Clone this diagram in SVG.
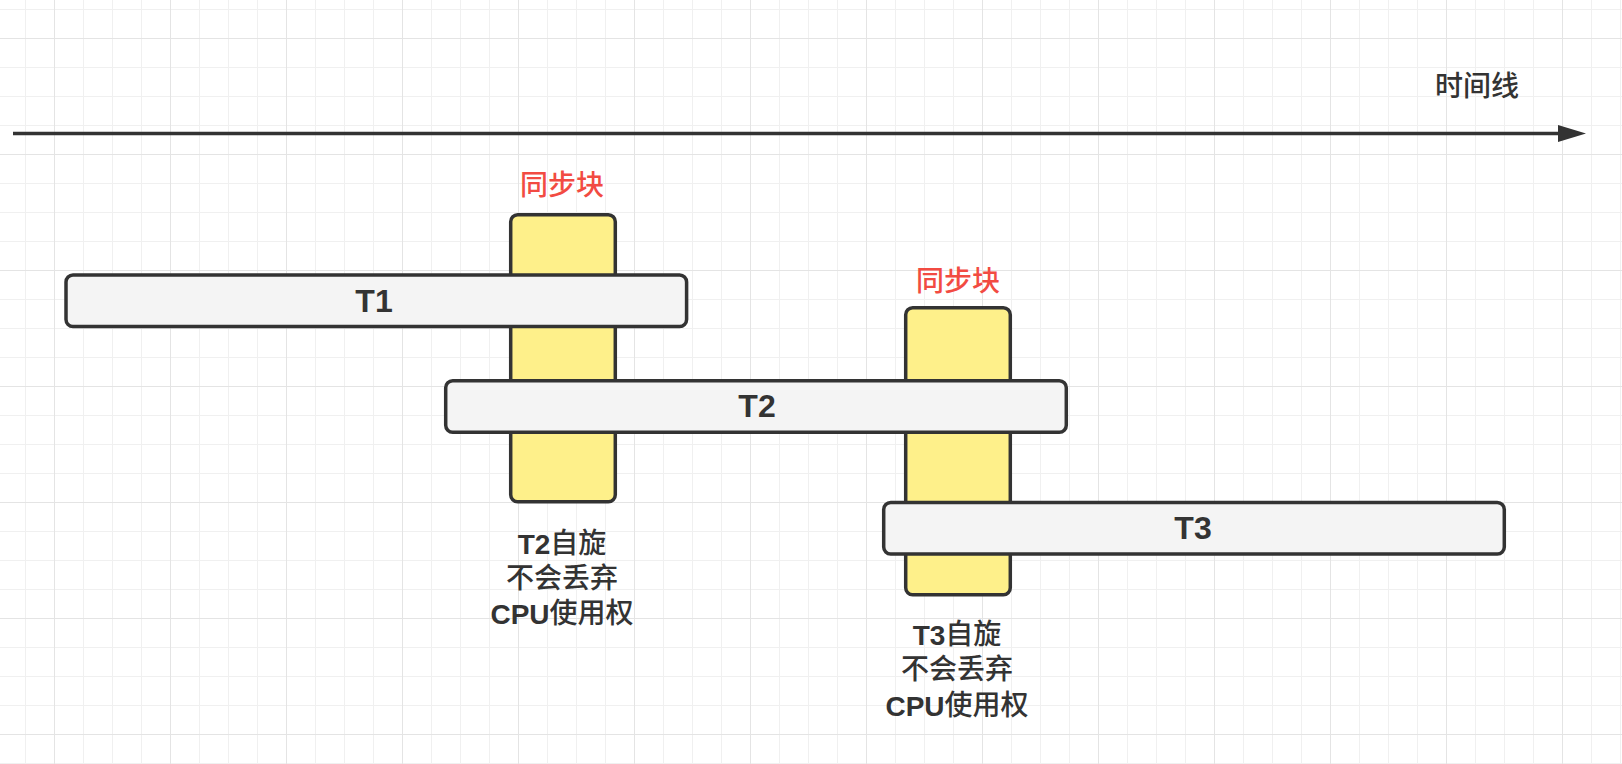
<svg xmlns="http://www.w3.org/2000/svg" width="1622" height="764" viewBox="0 0 1622 764">
  <defs>
    <pattern id="grid" x="54" y="38" width="116" height="116" patternUnits="userSpaceOnUse">
      <rect x="29" y="0" width="1" height="116" fill="#f0f0f0"/>
      <rect x="58" y="0" width="1" height="116" fill="#f0f0f0"/>
      <rect x="87" y="0" width="1" height="116" fill="#f0f0f0"/>
      <rect x="0" y="29" width="116" height="1" fill="#f0f0f0"/>
      <rect x="0" y="58" width="116" height="1" fill="#f0f0f0"/>
      <rect x="0" y="87" width="116" height="1" fill="#f0f0f0"/>
      <rect x="0" y="0" width="1" height="116" fill="#e4e4e4"/>
      <rect x="0" y="0" width="116" height="1" fill="#e4e4e4"/>
    </pattern>
  </defs>
  <style>
    .bar { fill: #f4f4f4; stroke: #333333; stroke-width: 3.5; }
    .sync { fill: #fef08a; stroke: #333333; stroke-width: 3.5; }
    .tlabel { font-family: "Liberation Sans", "Noto Sans CJK SC", sans-serif; font-size: 32px; font-weight: bold; fill: #333333; text-anchor: middle; dominant-baseline: central; }
    .label { font-family: "Liberation Sans", "Noto Sans CJK SC", sans-serif; font-size: 28px; font-weight: 500; fill: #333333; text-anchor: middle; dominant-baseline: central; }
    .lat { font-weight: bold; }
    .red { font-family: "Noto Sans CJK SC", sans-serif; font-size: 28px; font-weight: 500; fill: #f24b42; text-anchor: middle; dominant-baseline: central; }
  </style>
  <rect x="0" y="0" width="1622" height="764" fill="#ffffff"/>
  <rect x="0" y="0" width="1622" height="764" fill="url(#grid)"/>

  <g id="connectors">
    <line x1="13" y1="133.5" x2="1560" y2="133.5" stroke="#333333" stroke-width="3.5"/>
    <polygon points="1558,125 1586,133.5 1558,142" fill="#333333"/>
  </g>

  <g id="timeline-label">
    <text class="label" x="1477" y="86">时间线</text>
  </g>

  <g id="sync1">
    <rect class="sync" x="510.7" y="214.7" width="104.6" height="287" rx="7"/>
    <text class="red" x="562" y="183">同步块</text>
  </g>
  <g id="sync2">
    <rect class="sync" x="905.7" y="307.7" width="104.6" height="287" rx="7"/>
    <text class="red" x="958" y="278.5">同步块</text>
  </g>

  <g id="T1">
    <rect class="bar" x="66" y="275" width="620.6" height="51.6" rx="7"/>
    <text class="tlabel" x="374" y="301">T1</text>
  </g>
  <g id="T2">
    <rect class="bar" x="445.7" y="380.7" width="620.6" height="51.6" rx="7"/>
    <text class="tlabel" x="757" y="406">T2</text>
  </g>
  <g id="T3">
    <rect class="bar" x="883.7" y="502.5" width="620.6" height="51.6" rx="7"/>
    <text class="tlabel" x="1193" y="528">T3</text>
  </g>

  <g id="note-T2">
    <text class="label" x="562" y="543.5"><tspan class="lat">T2</tspan>自旋</text>
    <text class="label" x="562" y="578.5">不会丢弃</text>
    <text class="label" x="562" y="613.5"><tspan class="lat">CPU</tspan>使用权</text>
  </g>
  <g id="note-T3">
    <text class="label" x="957" y="634.5"><tspan class="lat">T3</tspan>自旋</text>
    <text class="label" x="957" y="669.5">不会丢弃</text>
    <text class="label" x="957" y="705.5"><tspan class="lat">CPU</tspan>使用权</text>
  </g>
</svg>
